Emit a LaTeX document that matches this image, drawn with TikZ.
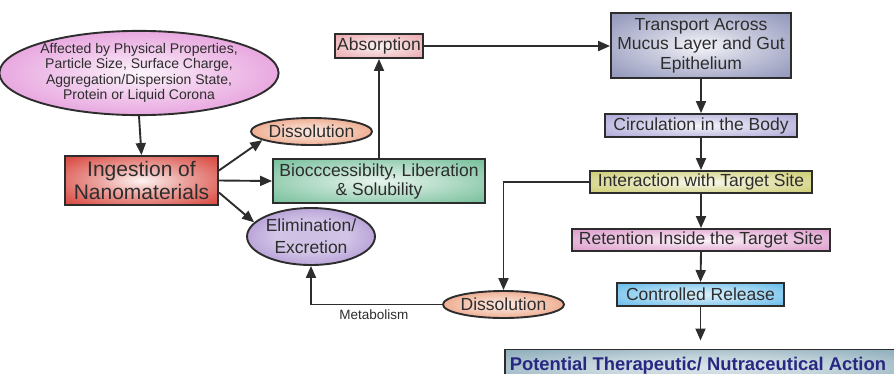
\documentclass[tikz,border=0pt]{standalone}
\usepackage{fontspec}
\setmainfont{Liberation Sans}
\usetikzlibrary{shapes.geometric,arrows.meta}

\definecolor{edge}{RGB}{45,45,45}
\definecolor{txt}{RGB}{45,45,45}
\definecolor{cAff}{RGB}{222,130,210}
\definecolor{cIng}{RGB}{212,52,42}
\definecolor{cDis}{RGB}{232,140,100}
\definecolor{cAbs}{RGB}{232,160,165}
\definecolor{cBio}{RGB}{105,185,145}
\definecolor{cElim}{RGB}{155,125,200}
\definecolor{cTra}{RGB}{135,140,180}
\definecolor{cCir}{RGB}{165,160,212}
\definecolor{cInt}{RGB}{200,200,100}
\definecolor{cRet}{RGB}{218,145,198}
\definecolor{cCon}{RGB}{85,180,232}
\definecolor{cPot}{RGB}{130,165,180}
\definecolor{potText}{RGB}{40,40,130}

% radial fills: pale centre fading to the full colour towards the rim
\newcommand\declsoft[3]{\pgfdeclareradialshading{#1}{\pgfpoint{0bp}{0bp}}%
  {color(0bp)=(#2!#3!white); color(14bp)=(#2!45!white); color(32bp)=(#2!85!white); color(45bp)=(#2); color(50bp)=(#2)}}
\declsoft{sAff}{cAff}{8}
\declsoft{sIng}{cIng}{5}
\declsoft{sDis}{cDis}{20}
\declsoft{sAbs}{cAbs}{15}
\declsoft{sBio}{cBio}{15}
\declsoft{sElim}{cElim}{50}
\declsoft{sTra}{cTra}{8}
\declsoft{sCir}{cCir}{10}
\declsoft{sInt}{cInt}{10}
\declsoft{sRet}{cRet}{10}
\declsoft{sCon}{cCon}{20}
\declsoft{sPot}{cPot}{30}

\tikzset{
  box/.style={draw=edge, line width=1.9pt, inner sep=0pt, align=center, text=txt,
    font=\fontsize{17.5}{19}\selectfont},
  oval/.style={box, ellipse},
  arr/.style={draw=edge, line width=1.9pt, -{Triangle[length=12pt,width=10pt]}},
}

\begin{document}
\begin{tikzpicture}[x=1pt,y=-1pt]
\useasboundingbox (0,0) rectangle (894,373);

% left column
\node[oval, shade, shading=sAff, minimum width=258pt, minimum height=77pt,
  font=\fontsize{14}{15.5}\selectfont] (aff) at (139,73)
  {Affected by Physical Properties,\\Particle Size, Surface Charge,\\Aggregation/Dispersion State,\\Protein or Liquid Corona};
\node[box, shade, shading=sIng, minimum width=153pt, minimum height=49pt,
  font=\fontsize{21}{23}\selectfont] (ing) at (141.5,180.5) {Ingestion of\\Nanomaterials};

% middle column
\node[oval, shade, shading=sDis, minimum width=109pt, minimum height=27pt] (dis1) at (311.5,131.5) {Dissolution};
\node[box, shade, shading=sBio, minimum width=212pt, minimum height=44pt] (bio) at (379,181)
  {Biocccessibilty, Liberation\\\& Solubility};
\node[box, shade, shading=sAbs, minimum width=88pt, minimum height=24pt] (abs) at (379,46) {Absorption};
\node[oval, shade, shading=sElim, minimum width=118pt, minimum height=57pt,
  font=\fontsize{17.5}{22}\selectfont] (elim) at (311,236.5) {Elimination/\\Excretion};
\node[oval, shade, shading=sDis, minimum width=109pt, minimum height=27pt] (dis2) at (503.5,304.5) {Dissolution};

% right column
\node[box, shade, shading=sTra, minimum width=180pt, minimum height=65pt,
  font=\fontsize{17.5}{19.5}\selectfont] (tra) at (701,45.5)
  {Transport Across\\Mucus Layer and Gut\\Epithelium};
\node[box, shade, shading=sCir, minimum width=192pt, minimum height=23pt] (cir) at (701,125.5) {Circulation in the Body};
\node[box, shade, shading=sInt, minimum width=222pt, minimum height=22pt] (int) at (701,182) {Interaction with Target Site};
\node[box, shade, shading=sRet, minimum width=258pt, minimum height=22pt] (ret) at (701,240) {Retention Inside the Target Site};
\node[box, shade, shading=sCon, minimum width=167pt, minimum height=23pt] (con) at (700.5,294.5) {Controlled Release};
\begin{scope}
  \clip (0,0) rectangle (894,373);
  \node[box, shade, shading=sPot, minimum width=400pt, minimum height=36pt, anchor=north west,
    text=potText, font=\bfseries\fontsize{18.4}{20}\selectfont, text depth=0pt] (pot) at (504,348.5)
    {\raisebox{8pt}{\hspace*{-14pt}Potential Therapeutic/ Nutraceutical Action}};
\end{scope}

% connectors
\draw[arr] (aff.south) -- (ing.north);
\draw[arr] ([yshift=10pt]ing.east) -- (dis1.190);
\draw[arr] (ing.east) -- (bio.west);
\draw[arr] ([yshift=-12pt]ing.east) -- (elim.166);
\draw[arr] (bio.north) -- (abs.south);
\draw[arr] (abs.east) -- (abs.east -| tra.west);
\draw[arr] (tra.south) -- (cir.north);
\draw[arr] (cir.south) -- (int.north);
\draw[arr] (int.south) -- (ret.north);
\draw[arr] (ret.south) -- (con.north);
\draw[arr, shorten >=8pt] (con.south) -- (con.south |- pot.north);
\draw[arr] (int.west) -| (dis2.north);
\draw[arr] (dis2.west) -| node[pos=0.26, below=1pt, text=txt, font=\fontsize{13.5}{15}\selectfont] (met) {Metabolism} (elim.south);
\end{tikzpicture}
\end{document}
